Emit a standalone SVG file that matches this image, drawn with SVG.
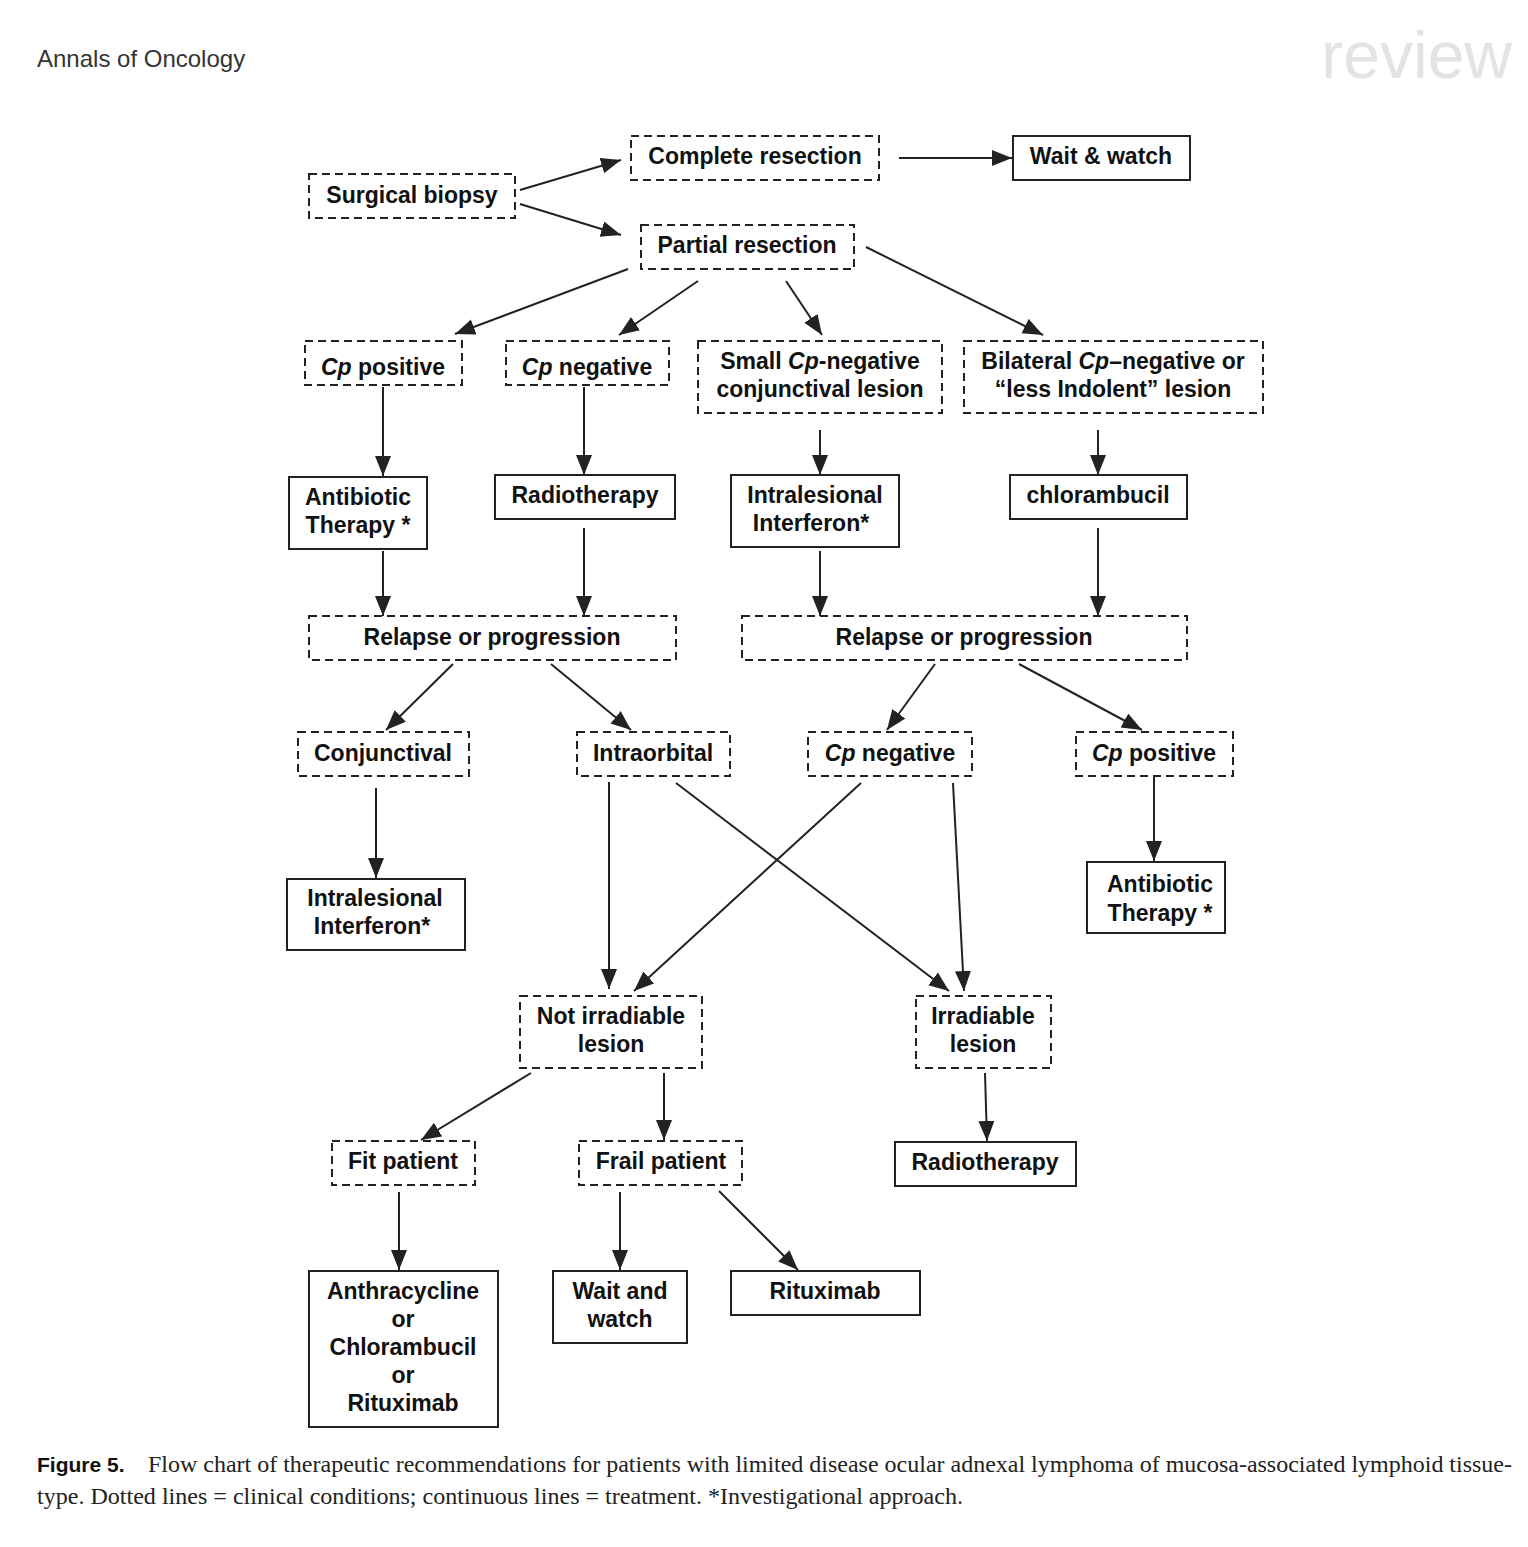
<svg xmlns="http://www.w3.org/2000/svg" width="1528" height="1547" viewBox="0 0 1528 1547">
<defs>
<style>
.d{fill:#fff;stroke:#222;stroke-width:2;stroke-dasharray:8 5}
.s{fill:#fff;stroke:#222;stroke-width:2}
.t{font-family:"Liberation Sans",Arial,sans-serif;font-weight:bold;font-size:23px;fill:#111;text-anchor:middle}
.c line{stroke:#222;stroke-width:2;marker-end:url(#ah)}
.hd{font-family:"Liberation Sans",Arial,sans-serif}
.cap{font-family:"Liberation Serif","Times New Roman",serif;font-size:23px;fill:#222}
</style>
<marker id="ah" markerUnits="userSpaceOnUse" markerWidth="22" markerHeight="18" refX="20" refY="8" orient="auto">
<path d="M0,0 L20,8 L0,16 Z" fill="#222"/>
</marker>
</defs>
<rect width="1528" height="1547" fill="#fff"/>
<text class="hd" x="37" y="67" font-size="24" fill="#333">Annals of Oncology</text>
<text class="hd" x="1512" y="78" font-size="66" fill="#e3e3e3" text-anchor="end">review</text>

<g class="c" id="connectors">
<line x1="520" y1="190" x2="621" y2="160"/>
<line x1="520" y1="204" x2="621" y2="235"/>
<line x1="899" y1="158" x2="1012" y2="158"/>
<line x1="628" y1="269" x2="455" y2="334"/>
<line x1="698" y1="281" x2="619" y2="335"/>
<line x1="786" y1="281" x2="822" y2="335"/>
<line x1="866" y1="247" x2="1043" y2="335"/>
<line x1="383" y1="387" x2="383" y2="476"/>
<line x1="584" y1="387" x2="584" y2="475"/>
<line x1="820" y1="430" x2="820" y2="475"/>
<line x1="1098" y1="430" x2="1098" y2="475"/>
<line x1="383" y1="551" x2="383" y2="616"/>
<line x1="584" y1="528" x2="584" y2="616"/>
<line x1="820" y1="551" x2="820" y2="616"/>
<line x1="1098" y1="528" x2="1098" y2="616"/>
<line x1="453" y1="664" x2="386" y2="730"/>
<line x1="551" y1="664" x2="631" y2="730"/>
<line x1="935" y1="664" x2="887" y2="730"/>
<line x1="1019" y1="664" x2="1142" y2="730"/>
<line x1="376" y1="788" x2="376" y2="878"/>
<line x1="1154" y1="772" x2="1154" y2="861"/>
<line x1="609" y1="782" x2="609" y2="989"/>
<line x1="676" y1="783" x2="949" y2="991"/>
<line x1="861" y1="783" x2="634" y2="991"/>
<line x1="953" y1="783" x2="964" y2="991"/>
<line x1="531" y1="1073" x2="421" y2="1140"/>
<line x1="664" y1="1073" x2="664" y2="1140"/>
<line x1="985" y1="1073" x2="987" y2="1141"/>
<line x1="399" y1="1192" x2="399" y2="1270"/>
<line x1="620" y1="1192" x2="620" y2="1270"/>
<line x1="719" y1="1191" x2="798" y2="1270"/>
</g>

<g id="surgical-biopsy"><rect class="d" x="309" y="174" width="206" height="44"/><text class="t" x="412" y="203">Surgical biopsy</text></g>
<g id="complete-resection"><rect class="d" x="631" y="136" width="248" height="44"/><text class="t" x="755" y="164">Complete resection</text></g>
<g id="wait-watch"><rect class="s" x="1013" y="136" width="177" height="44"/><text class="t" x="1101" y="164">Wait &amp; watch</text></g>
<g id="partial-resection"><rect class="d" x="641" y="225" width="213" height="44"/><text class="t" x="747" y="253">Partial resection</text></g>

<g id="cp-positive"><rect class="d" x="305" y="341" width="157" height="44"/><text class="t" x="383" y="375"><tspan font-style="italic">Cp</tspan> positive</text></g>
<g id="cp-negative"><rect class="d" x="506" y="341" width="163" height="44"/><text class="t" x="587" y="375"><tspan font-style="italic">Cp</tspan> negative</text></g>
<g id="small-cp-negative"><rect class="d" x="698" y="341" width="244" height="72"/><text class="t" x="820" y="369">Small <tspan font-style="italic">Cp</tspan>-negative</text><text class="t" x="820" y="397">conjunctival lesion</text></g>
<g id="bilateral"><rect class="d" x="964" y="341" width="299" height="72"/><text class="t" x="1113" y="369">Bilateral <tspan font-style="italic">Cp</tspan>–negative or</text><text class="t" x="1113" y="397">“less Indolent” lesion</text></g>

<g id="antibiotic-1"><rect class="s" x="289" y="477" width="138" height="72"/><text class="t" x="358" y="505">Antibiotic</text><text class="t" x="358" y="533">Therapy *</text></g>
<g id="radiotherapy-1"><rect class="s" x="495" y="475" width="180" height="44"/><text class="t" x="585" y="503">Radiotherapy</text></g>
<g id="interferon-1"><rect class="s" x="731" y="475" width="168" height="72"/><text class="t" x="815" y="503">Intralesional</text><text class="t" x="811" y="531">Interferon*</text></g>
<g id="chlorambucil"><rect class="s" x="1010" y="475" width="177" height="44"/><text class="t" x="1098" y="503">chlorambucil</text></g>

<g id="relapse-1"><rect class="d" x="309" y="616" width="367" height="44"/><text class="t" x="492" y="645">Relapse or progression</text></g>
<g id="relapse-2"><rect class="d" x="742" y="616" width="445" height="44"/><text class="t" x="964" y="645">Relapse or progression</text></g>

<g id="conjunctival"><rect class="d" x="298" y="732" width="171" height="44"/><text class="t" x="383" y="761">Conjunctival</text></g>
<g id="intraorbital"><rect class="d" x="577" y="732" width="153" height="44"/><text class="t" x="653" y="761">Intraorbital</text></g>
<g id="cp-negative-2"><rect class="d" x="808" y="732" width="164" height="44"/><text class="t" x="890" y="761"><tspan font-style="italic">Cp</tspan> negative</text></g>
<g id="cp-positive-2"><rect class="d" x="1076" y="732" width="157" height="44"/><text class="t" x="1154" y="761"><tspan font-style="italic">Cp</tspan> positive</text></g>

<g id="interferon-2"><rect class="s" x="287" y="879" width="178" height="71"/><text class="t" x="375" y="906">Intralesional</text><text class="t" x="372" y="934">Interferon*</text></g>
<g id="antibiotic-2"><rect class="s" x="1087" y="862" width="138" height="71"/><text class="t" x="1160" y="892">Antibiotic</text><text class="t" x="1160" y="921">Therapy *</text></g>

<g id="not-irradiable"><rect class="d" x="520" y="996" width="182" height="72"/><text class="t" x="611" y="1024">Not irradiable</text><text class="t" x="611" y="1052">lesion</text></g>
<g id="irradiable"><rect class="d" x="916" y="996" width="135" height="72"/><text class="t" x="983" y="1024">Irradiable</text><text class="t" x="983" y="1052">lesion</text></g>

<g id="fit-patient"><rect class="d" x="332" y="1141" width="143" height="44"/><text class="t" x="403" y="1169">Fit patient</text></g>
<g id="frail-patient"><rect class="d" x="579" y="1141" width="163" height="44"/><text class="t" x="661" y="1169">Frail patient</text></g>
<g id="radiotherapy-2"><rect class="s" x="895" y="1142" width="181" height="44"/><text class="t" x="985" y="1170">Radiotherapy</text></g>

<g id="anthracycline"><rect class="s" x="309" y="1271" width="189" height="156"/><text class="t" x="403" y="1299">Anthracycline</text><text class="t" x="403" y="1327">or</text><text class="t" x="403" y="1355">Chlorambucil</text><text class="t" x="403" y="1383">or</text><text class="t" x="403" y="1411">Rituximab</text></g>
<g id="wait-and-watch"><rect class="s" x="553" y="1271" width="134" height="72"/><text class="t" x="620" y="1299">Wait and</text><text class="t" x="620" y="1327">watch</text></g>
<g id="rituximab"><rect class="s" x="731" y="1271" width="189" height="44"/><text class="t" x="825" y="1299">Rituximab</text></g>

<text x="37" y="1472"><tspan class="hd" font-size="21" font-weight="bold" fill="#111">Figure 5.</tspan></text>
<text class="cap" x="148" y="1472" textLength="1364" lengthAdjust="spacingAndGlyphs">Flow chart of therapeutic recommendations for patients with limited disease ocular adnexal lymphoma of mucosa-associated lymphoid tissue-</text>
<text class="cap" x="37" y="1504" textLength="926" lengthAdjust="spacingAndGlyphs">type. Dotted lines = clinical conditions; continuous lines = treatment. *Investigational approach.</text>
</svg>
